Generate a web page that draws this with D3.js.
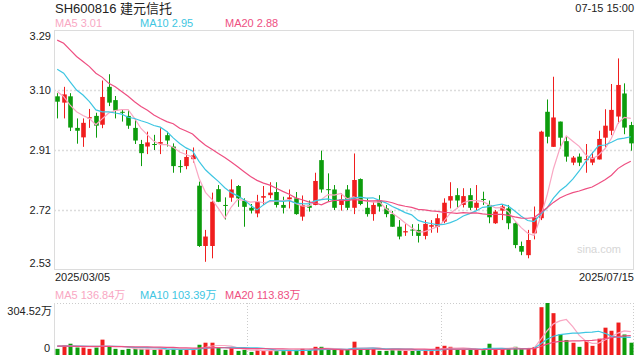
<!DOCTYPE html>
<html>
<head>
<meta charset="utf-8">
<script src="https://cdn.jsdelivr.net/npm/d3@7"></script>
<style>
    html, body { margin: 0; padding: 0; background: #fff; }
    svg { display: block; font-family: "Liberation Sans", Arial, "Noto Sans CJK SC", sans-serif; }
</style>
</head>
<body>
<div id="chart"></div>
<script>
// K-LINE CHART — SH600816 daily candles with MA lines + volume panel
const openP  = [3.08,3.06,3.08,2.98,2.95,3.01,3.018,2.99,3.11,3.068,3.031,3.018,2.98,2.929,2.921,2.929,2.93,2.957,2.921,2.859,
                2.859,2.881,2.797,2.606,2.606,2.786,2.736,2.759,2.796,2.749,2.727,2.709,2.759,2.767,2.777,2.736,2.754,2.757,2.699,2.734,
                2.736,2.878,2.786,2.785,2.736,2.785,2.727,2.818,2.727,2.707,2.75,2.725,2.707,2.667,2.649,2.658,2.657,2.638,2.667,2.667,
                2.683,2.75,2.767,2.736,2.767,2.727,2.755,2.736,2.678,2.718,2.725,2.678,2.606,2.577,2.646,2.694,3.031,2.92,3.0,2.938,
                2.87,2.889,2.879,2.87,2.88,2.949,2.971,3.016,3.089,2.989];
const highP  = [3.09,3.11,3.09,3.01,3.01,3.04,3.028,3.13,3.15,3.081,3.039,3.037,3.008,2.942,2.968,2.958,2.979,2.968,2.931,2.878,
                2.91,2.918,2.81,2.657,2.775,2.799,2.76,2.817,2.799,2.757,2.739,2.768,2.796,2.808,2.808,2.762,2.785,2.777,2.766,2.75,
                2.838,2.908,2.836,2.799,2.773,2.799,2.899,2.82,2.757,2.746,2.767,2.736,2.717,2.688,2.675,2.675,2.676,2.688,2.688,2.707,
                2.757,2.808,2.789,2.789,2.789,2.799,2.778,2.75,2.72,2.738,2.736,2.68,2.62,2.657,2.731,2.971,3.07,3.142,3.0,2.952,
                2.891,2.899,2.929,2.904,2.971,3.039,3.119,3.2,3.121,2.999];
const lowP   = [3.01,3.01,2.97,2.93,2.92,2.98,2.949,2.979,3.049,3.01,3.0,2.977,2.929,2.859,2.897,2.91,2.897,2.921,2.838,2.838,
                2.849,2.87,2.603,2.556,2.567,2.745,2.69,2.746,2.73,2.667,2.709,2.697,2.736,2.757,2.728,2.709,2.725,2.705,2.686,2.715,
                2.735,2.775,2.746,2.72,2.718,2.72,2.707,2.735,2.699,2.686,2.715,2.697,2.667,2.627,2.638,2.638,2.617,2.627,2.648,2.648,
                2.678,2.725,2.728,2.728,2.72,2.72,2.736,2.678,2.676,2.688,2.659,2.599,2.577,2.567,2.627,2.688,2.931,2.92,2.915,2.873,
                2.862,2.859,2.838,2.862,2.88,2.918,2.957,2.994,2.96,2.908];
const closeP = [3.063,3.086,2.981,2.971,2.996,3.014,2.987,3.078,3.06,3.035,3.029,2.987,2.94,2.9,2.934,2.926,2.935,2.94,2.859,2.857,
                2.888,2.893,2.606,2.636,2.746,2.746,2.734,2.785,2.757,2.73,2.718,2.746,2.764,2.775,2.736,2.727,2.76,2.707,2.736,2.727,
                2.812,2.785,2.784,2.727,2.754,2.727,2.815,2.739,2.707,2.736,2.731,2.707,2.667,2.636,2.653,2.656,2.638,2.676,2.672,2.694,
                2.743,2.764,2.75,2.764,2.727,2.743,2.753,2.697,2.715,2.731,2.678,2.609,2.588,2.625,2.696,2.968,2.952,3.013,2.949,2.889,
                2.886,2.87,2.881,2.886,2.945,2.987,3.037,3.116,2.981,2.931];
// volume in 万 shares
const volume = [36,58,66,44,44,36,44,90,50,36,30,36,36,36,36,30,36,30,36,30,
                30,30,60,72,72,44,30,40,24,30,18,30,24,30,24,24,24,30,36,30,
                48,48,30,30,30,30,78,36,36,36,24,24,30,30,24,24,24,30,24,48,
                54,48,30,30,30,30,30,66,30,36,36,48,36,36,47,280,304.52,245,122,88,
                71.6,47.8,81.6,53.7,95.5,160,142,190,120,72];

// MA values for the first days (their windows reach before 03/05)
const ma5Lead   = [3.095,3.079,3.052,3.031];
const ma10Lead  = [3.166,3.153,3.126,3.10,3.084,3.063,3.037,3.031,3.031];
const ma20Lead  = [3.258,3.248,3.227,3.206,3.19,3.174,3.153,3.14,3.121,3.11,3.095,3.08,3.063,3.048,3.036,3.021,3.01,3.0,2.993];
const vma5Lead  = [52,53,54,54];
const vma10Lead = [52,52,52,52,52,51,51,51,50];
const vma20Lead = [52,52,52,51,51,51,50,50,50,49,49,48,48,47,47,46,46,45,45];

const priceTicks = [3.29, 3.10, 2.91, 2.72, 2.53];
const dateLabels = ["2025/03/05", "2025/07/15"];
const title      = "SH600816 建元信托";
const timeLabel  = "07-15 15:00";
const maLabels   = ["MA5 3.01", "MA10 2.95", "MA20 2.88"];
const vmaLabels  = ["MA5 136.84万", "MA10 103.39万", "MA20 113.83万"];
const volMax     = 304.52;

(function () {
    const W = 640, H = 360;
    const RED = "#f01e1e", GREEN = "#0c9c0c";
    const MA_COLORS = ["#f9a7c3", "#3ec6e2", "#ee4f82"];
    const GRID = "#dcdcdc";

    const left = 54, right = 634;
    const pTop = 30, pBot = 270;
    const vTop = 303, vBot = 355;

    const svg = d3.select("#chart").append("svg").attr("width", W).attr("height", H);

    const n = closeP.length;
    const idx = d3.range(n);
    const x = d3.scaleBand().domain(idx).range([left, right]);
    const cx = i => x(i) + x.bandwidth() / 2;
    const y = d3.scaleLinear().domain([priceTicks[4], priceTicks[0]]).range([pBot, pTop]);
    const yv = d3.scaleLinear().domain([0, volMax]).range([vBot, vTop]);
    const colorOf = i => closeP[i] >= openP[i] ? RED : GREEN;

    // moving average, falling back on values
    function movingAvg(vals, len, lead) {
        return vals.map((v, i) => i < len - 1 ? lead[i] : d3.mean(vals.slice(i - len + 1, i + 1)));
    }

    // ── Header ─────────────────────────────────────────────────────────────
    svg.append("text").attr("x", 55).attr("y", 13).attr("font-size", 13).attr("fill", "#222").text(title);
    svg.append("text").attr("x", 634).attr("y", 12).attr("font-size", 11).attr("text-anchor", "end")
        .attr("fill", "#222").text(timeLabel);
    const labX = [55, 140, 225];
    maLabels.forEach((t, k) => svg.append("text").attr("x", labX[k]).attr("y", 27)
        .attr("font-size", 11).attr("fill", MA_COLORS[k]).text(t));

    // ── Price panel frame + grid ───────────────────────────────────────────
    svg.append("rect").attr("x", left + 0.5).attr("y", pTop + 0.5)
        .attr("width", right - left - 1).attr("height", pBot - pTop - 1)
        .attr("fill", "none").attr("stroke", GRID);
    svg.append("g").selectAll("line").data(priceTicks.slice(1, 4)).join("line")
        .attr("x1", left).attr("x2", right)
        .attr("y1", d => Math.round(y(d)) + 0.5).attr("y2", d => Math.round(y(d)) + 0.5)
        .attr("stroke", GRID).attr("stroke-width", 1.5).attr("stroke-dasharray", "2,2");

    const yAxis = svg.append("g").attr("font-size", 11).attr("fill", "#222");
    priceTicks.forEach((t, k) => {
        const dy = k === 0 ? "0.9em" : k === priceTicks.length - 1 ? "-0.3em" : "0.35em";
        yAxis.append("text").attr("x", 51).attr("y", y(t)).attr("dy", dy)
            .attr("text-anchor", "end").text(t.toFixed(2));
    });

    svg.append("text").attr("x", 621).attr("y", 253).attr("font-size", 11).attr("text-anchor", "end")
        .attr("fill", "#d6d6d6").text("sina.com");

    // ── Candles ────────────────────────────────────────────────────────────
    const bw = 4.6;
    const candles = svg.append("g");
    candles.selectAll("line").data(idx).join("line")
        .attr("x1", i => Math.round(cx(i)) + 0.5).attr("x2", i => Math.round(cx(i)) + 0.5)
        .attr("y1", i => y(highP[i])).attr("y2", i => y(lowP[i]))
        .attr("stroke", colorOf);
    candles.selectAll("rect").data(idx).join("rect")
        .attr("x", i => Math.round(cx(i)) + 0.5 - bw / 2)
        .attr("y", i => y(Math.max(openP[i], closeP[i])))
        .attr("width", bw)
        .attr("height", i => Math.max(1, Math.abs(y(openP[i]) - y(closeP[i]))))
        .attr("fill", colorOf);

    // ── Price MA lines ─────────────────────────────────────────────────────
    const pMAs = [movingAvg(closeP, 5, ma5Lead), movingAvg(closeP, 10, ma10Lead), movingAvg(closeP, 20, ma20Lead)];
    const pLine = d3.line().x((d, i) => cx(i)).y(d => y(d));
    pMAs.forEach((s, k) => svg.append("path").datum(s).attr("d", pLine)
        .attr("fill", "none").attr("stroke", MA_COLORS[k]).attr("stroke-width", 1.2));

    // ── Dates ──────────────────────────────────────────────────────────────
    svg.append("text").attr("x", 55).attr("y", 281).attr("font-size", 11).attr("fill", "#222").text(dateLabels[0]);
    svg.append("text").attr("x", 634).attr("y", 281).attr("font-size", 11).attr("text-anchor", "end")
        .attr("fill", "#222").text(dateLabels[1]);

    // ── Volume panel ───────────────────────────────────────────────────────
    vmaLabels.forEach((t, k) => svg.append("text").attr("x", labX[k]).attr("y", 299)
        .attr("font-size", 11).attr("fill", MA_COLORS[k]).text(t));

    const vg = svg.append("g");
    vg.append("line").attr("x1", left).attr("x2", right).attr("y1", vTop + 0.5).attr("y2", vTop + 0.5)
        .attr("stroke", "#ccc").attr("stroke-dasharray", "1,2");
    vg.append("line").attr("x1", left + 0.5).attr("x2", left + 0.5).attr("y1", vTop).attr("y2", vBot)
        .attr("stroke", GRID);
    vg.append("line").attr("x1", right - 0.5).attr("x2", right - 0.5).attr("y1", vTop).attr("y2", vBot)
        .attr("stroke", "#ccc").attr("stroke-dasharray", "1,2");
    vg.selectAll(".vgrid").data([n / 3, 2 * n / 3]).join("line").attr("class", "vgrid")
        .attr("x1", d => Math.round(x(d)) + 0.5).attr("x2", d => Math.round(x(d)) + 0.5)
        .attr("y1", vTop).attr("y2", vBot)
        .attr("stroke", "#ccc").attr("stroke-dasharray", "1,2");

    svg.append("text").attr("x", 52).attr("y", yv(volMax)).attr("dy", "1.05em").attr("font-size", 11)
        .attr("text-anchor", "end").attr("fill", "#222").text(volMax.toFixed(2) + "万");
    svg.append("text").attr("x", 50).attr("y", 352).attr("font-size", 11)
        .attr("text-anchor", "end").attr("fill", "#222").text("0");

    const vbw = 4;
    vg.selectAll("rect").data(idx).join("rect")
        .attr("x", i => Math.round(cx(i)) + 0.5 - vbw / 2)
        .attr("y", i => yv(volume[i]))
        .attr("width", vbw)
        .attr("height", i => yv(0) - yv(volume[i]))
        .attr("fill", colorOf);

    const vMAs = [movingAvg(volume, 5, vma5Lead), movingAvg(volume, 10, vma10Lead), movingAvg(volume, 20, vma20Lead)];
    const vLine = d3.line().x((d, i) => cx(i)).y(d => yv(d));
    vMAs.forEach((s, k) => svg.append("path").datum(s).attr("d", vLine)
        .attr("fill", "none").attr("stroke", MA_COLORS[k]).attr("stroke-width", 1.2));
})();
</script>
</body>
</html>
